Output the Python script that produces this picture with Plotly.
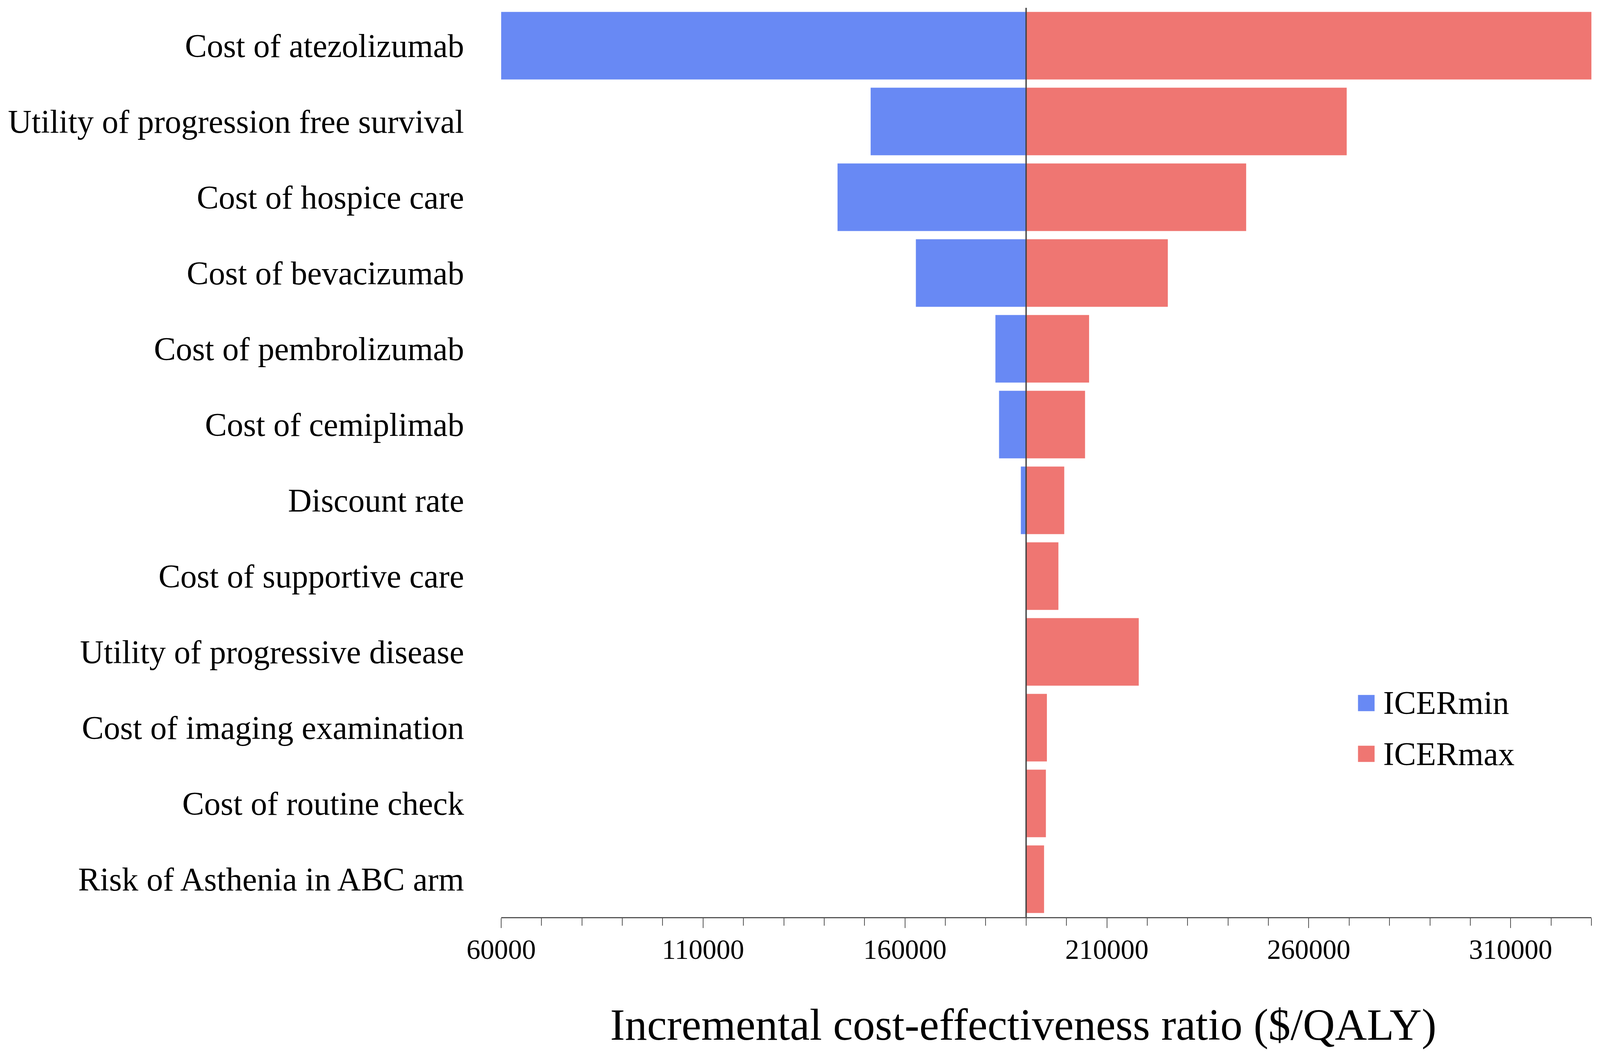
import plotly.graph_objects as go

# tornado diagram: one-way sensitivity analysis, ICER range per parameter
parameters = [
    "Cost of atezolizumab",
    "Utility of progression free survival",
    "Cost of hospice care",
    "Cost of bevacizumab",
    "Cost of pembrolizumab",
    "Cost of cemiplimab",
    "Discount rate",
    "Cost of supportive care",
    "Utility of progressive disease",
    "Cost of imaging examination",
    "Cost of routine check",
    "Risk of Asthenia in ABC arm",
]
base_icer = 190000
icer_min = [60000, 151500, 143300, 162700, 182400, 183300, 188700,
            190000, 190000, 190000, 190000, 190000]
icer_max = [330000, 269400, 244500, 225100, 205600, 204600, 199450,
            198000, 217900, 195150, 194900, 194450]

x_range = [60000, 330000]
major_ticks = [60000, 110000, 160000, 210000, 260000, 310000]

blue = "rgb(104,137,244)"
red = "rgb(239,118,114)"
axis_grey = "#555555"
serif = "Liberation Serif, Times New Roman, serif"

# the page is shot 4096 css px wide (device scale ~1.153) and 2719 css px tall,
# with the default 8px body margin; reference pixels are mapped onto that
DPR = 1.1533
VK = 1.0
BODY = 8


def cx(v):
    return v / DPR - BODY


def cy(v):
    return v * VK - BODY


def sz(v):
    return v / DPR


W, H = round(4724 / DPR) - 2 * BODY, round(2719 * VK) - 2 * BODY
PLOT_L, PLOT_R, PLOT_T, PLOT_B = 1476, 4699, 20, 2348   # reference pixels
PLOT_H = cy(PLOT_B) - cy(PLOT_T)


def px_x(px):
    return (px - PLOT_L) / (PLOT_R - PLOT_L)


def px_y(py):
    return (PLOT_B - py) / (PLOT_B - PLOT_T)


fig = go.Figure()
fig.add_trace(go.Bar(
    y=parameters, x=[base_icer - v for v in icer_min], base=icer_min,
    orientation="h", name="ICERmin", marker=dict(color=blue, line=dict(width=0)),
    showlegend=False,
))
fig.add_trace(go.Bar(
    y=parameters, x=[v - base_icer for v in icer_max], base=base_icer,
    orientation="h", name="ICERmax", marker=dict(color=red, line=dict(width=0)),
    showlegend=False,
))

# base-case line
fig.add_shape(type="line", x0=base_icer, x1=base_icer, y0=0, y1=1, yref="paper",
              line=dict(color="#444444", width=sz(4)), layer="above")

# legend drawn by hand so the swatches can be sized like the original
half = sz(24) / PLOT_H
for name, color, mid in [("ICERmin", blue, 1800), ("ICERmax", red, 1930)]:
    fig.add_shape(type="rect", xref="paper", yref="paper",
                  x0=px_x(4009), x1=px_x(4058), y0=px_y(mid) - half, y1=px_y(mid) + half,
                  fillcolor=color, line=dict(width=0))
    fig.add_annotation(text=name, xref="paper", yref="paper", x=px_x(4081), y=px_y(mid),
                       xanchor="left", yanchor="middle", showarrow=False,
                       font=dict(family=serif, size=sz(97), color="black"))

fig.add_annotation(text="Incremental cost-effectiveness ratio ($/QALY)",
                   xref="paper", yref="paper", x=px_x(3019), y=px_y(2624),
                   xanchor="center", yanchor="middle", showarrow=False,
                   font=dict(family=serif, size=sz(131), color="black"))

fig.update_layout(
    width=W, height=H,
    margin=dict(l=cx(PLOT_L), r=W - cx(PLOT_R), t=cy(PLOT_T), b=H - cy(PLOT_B)),
    plot_bgcolor="white", paper_bgcolor="white",
    barmode="overlay", bargap=0.108,
    font=dict(family=serif, color="black"),
    xaxis=dict(
        range=x_range, tickvals=major_ticks, tickformat="d",
        showgrid=False, zeroline=False,
        showline=True, linecolor=axis_grey, linewidth=sz(4),
        ticks="outside", ticklen=25 * VK, tickwidth=sz(2), tickcolor=axis_grey,
        minor=dict(tick0=60000, dtick=10000, ticks="outside", ticklen=19 * VK,
                   tickwidth=sz(2), tickcolor=axis_grey, showgrid=False),
        ticklabelstandoff=-7,
        tickfont=dict(family=serif, size=sz(82), color="black"),
    ),
    yaxis=dict(
        autorange="reversed", showgrid=False, zeroline=False, showline=False,
        ticks="", ticklabelstandoff=94,
        tickfont=dict(family=serif, size=sz(97), color="black"),
    ),
)

fig.write_html("out.html")
